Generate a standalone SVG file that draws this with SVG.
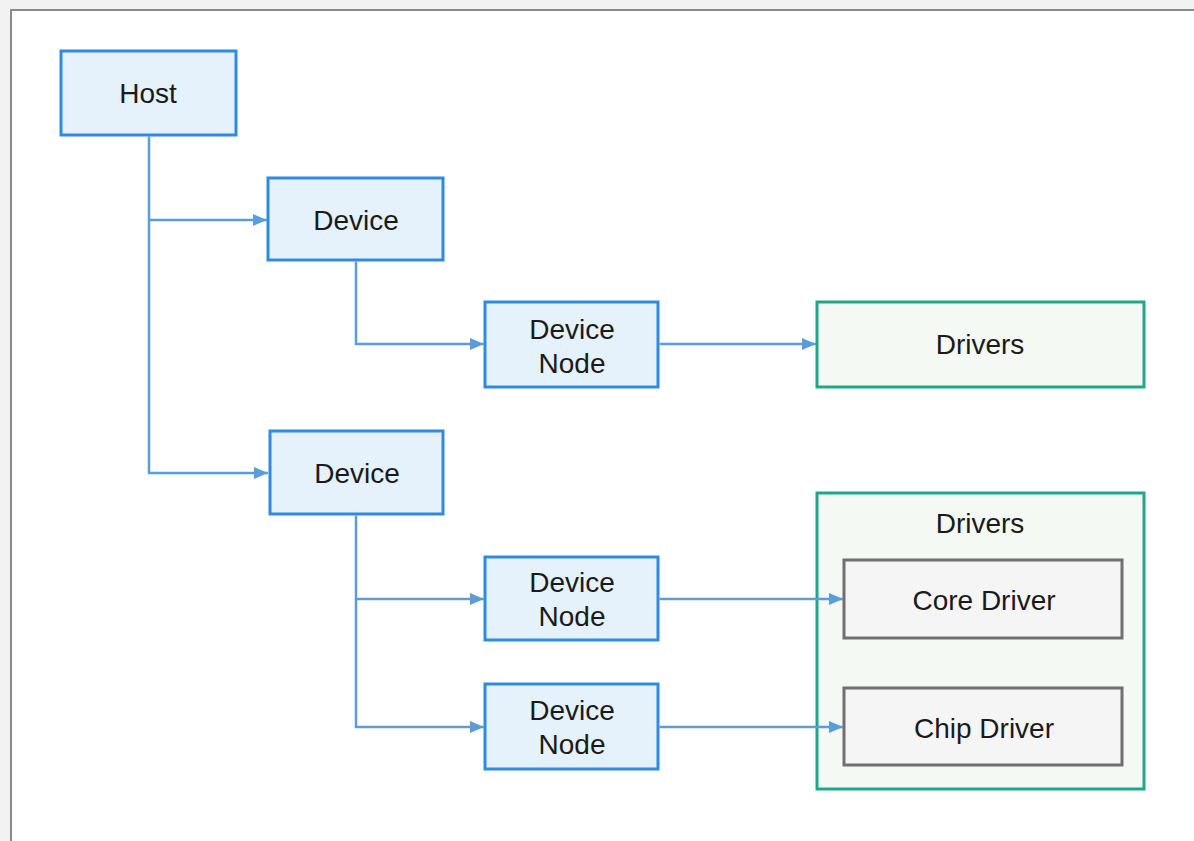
<svg xmlns="http://www.w3.org/2000/svg" width="1194" height="841" viewBox="0 0 1194 841">
<defs>
<style>
.blue{fill:#e5f1fb;stroke:#2f8ae0;stroke-width:3}
.green{fill:#f4f9f4;stroke:#1ea888;stroke-width:3}
.gray{fill:#f5f5f5;stroke:#707070;stroke-width:3}
.t{font-family:"Liberation Sans",Arial,sans-serif;font-size:28px;fill:#1a1a1a;text-anchor:middle}
.c{fill:none;stroke:#5b9ddb;stroke-width:2.5}
</style>
<marker id="ah" markerUnits="userSpaceOnUse" markerWidth="14" markerHeight="12" refX="14" refY="6" orient="auto">
<path d="M0,0 L14,6 L0,12 Z" fill="#5b9ddb"/>
</marker>
</defs>
<rect x="0" y="0" width="1194" height="841" fill="#f2f2f2"/>
<rect x="11" y="10" width="1200" height="850" fill="#ffffff" stroke="#8a8a8a" stroke-width="2"/>
<g id="host"><rect class="blue" x="61" y="51" width="175" height="84"/><text class="t" x="148" y="103">Host</text></g>
<g id="device1"><rect class="blue" x="268" y="178" width="175" height="82"/><text class="t" x="356" y="230">Device</text></g>
<g id="devnode1"><rect class="blue" x="485" y="302" width="173" height="85"/><text class="t" x="572" y="339">Device</text><text class="t" x="572" y="373">Node</text></g>
<g id="drivers1"><rect class="green" x="817" y="302" width="327" height="85"/><text class="t" x="980" y="354">Drivers</text></g>
<g id="device2"><rect class="blue" x="270" y="431" width="173" height="83"/><text class="t" x="357" y="483">Device</text></g>
<g id="devnode2"><rect class="blue" x="485" y="557" width="173" height="83"/><text class="t" x="572" y="592">Device</text><text class="t" x="572" y="626">Node</text></g>
<g id="devnode3"><rect class="blue" x="485" y="684" width="173" height="85"/><text class="t" x="572" y="720">Device</text><text class="t" x="572" y="754">Node</text></g>
<g id="drivers2"><rect class="green" x="817" y="493" width="327" height="296"/><text class="t" x="980" y="533">Drivers</text></g>
<g id="coredriver"><rect class="gray" x="844" y="560" width="278" height="78"/><text class="t" x="984" y="610">Core Driver</text></g>
<g id="chipdriver"><rect class="gray" x="844" y="688" width="278" height="77"/><text class="t" x="984" y="738">Chip Driver</text></g>
<g id="connectors">
<path class="c" d="M149,136.5 V473 H268" marker-end="url(#ah)"/>
<path class="c" d="M149,220 H267" marker-end="url(#ah)"/>
<path class="c" d="M356,261.5 V344 H484" marker-end="url(#ah)"/>
<path class="c" d="M659.5,344 H816" marker-end="url(#ah)"/>
<path class="c" d="M356,515.5 V727 H484" marker-end="url(#ah)"/>
<path class="c" d="M356,599 H484" marker-end="url(#ah)"/>
<path class="c" d="M659.5,599 H843" marker-end="url(#ah)"/>
<path class="c" d="M659.5,727 H843" marker-end="url(#ah)"/>
</g>
</svg>
